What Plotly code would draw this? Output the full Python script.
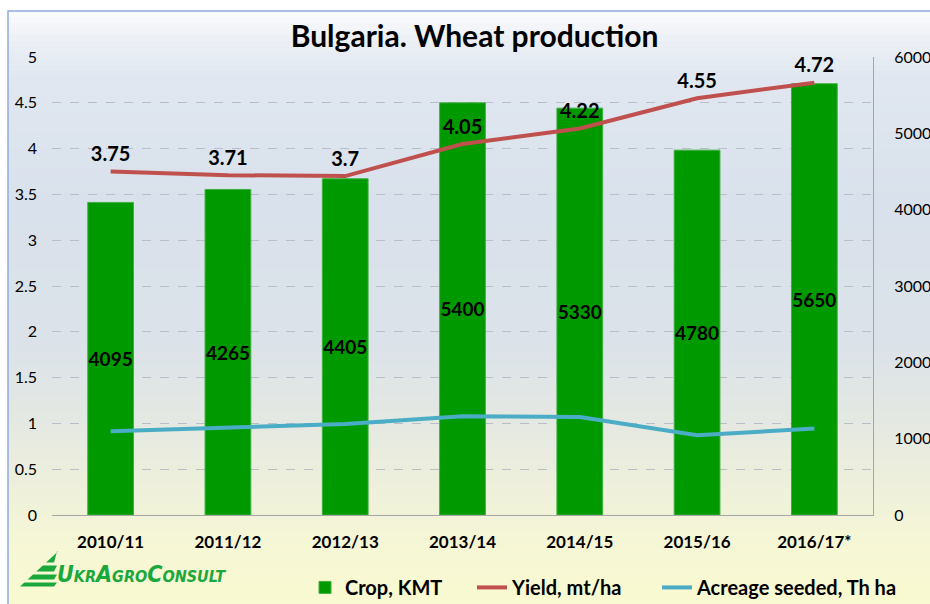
import plotly.graph_objects as go

seasons = ["2010/11", "2011/12", "2012/13", "2013/14", "2014/15", "2015/16", "2016/17*"]
crop_kmt = [4095, 4265, 4405, 5400, 5330, 4780, 5650]
yield_mt_ha = [3.75, 3.71, 3.70, 4.05, 4.22, 4.55, 4.72]
acreage_th_ha = [1097, 1149, 1193, 1293, 1285, 1044, 1132]
yield_labels = ["3.75", "3.71", "3.7", "4.05", "4.22", "4.55", "4.72"]

W, H = 930, 604
L, T = 52, 57
PW, PH = 821, 458.5
R = W - L - PW
B = H - T - PH


def px(xp):
    return (xp - L) / PW


def py(yp):
    return (T + PH - yp) / PH


fig = go.Figure()

fig.add_trace(go.Bar(
    x=seasons, y=crop_kmt, name="Crop, KMT", yaxis="y", legend="legend",
    marker=dict(color="#009900", line=dict(color="#3fb03f", width=1)),
    text=[str(v) for v in crop_kmt], textposition="inside", insidetextanchor="middle",
    constraintext="none", textangle=0,
    textfont=dict(family="Lato", size=19, color="black", weight="bold"),
    hoverinfo="skip",
))
fig.add_trace(go.Scatter(
    x=seasons, y=yield_mt_ha, name="Yield, mt/ha", yaxis="y2", legend="legend2",
    mode="lines+markers+text", line=dict(color="#c0504d", width=4),
    marker=dict(size=7, color="rgba(0,0,0,0)"),
    text=yield_labels, textposition="top center",
    textfont=dict(family="Lato", size=20, color="black", weight="bold"),
))
fig.add_trace(go.Scatter(
    x=seasons, y=acreage_th_ha, name="Acreage seeded, Th ha", yaxis="y", legend="legend3",
    mode="lines", line=dict(color="#4bacc6", width=4),
))

# background gradient (pixel rows -> colour)
stops = [(11, (250, 251, 253)), (40, (236, 240, 246)), (80, (224, 231, 240)),
         (200, (217, 225, 236)), (340, (219, 226, 233)), (420, (228, 232, 226)),
         (480, (237, 239, 220)), (540, (245, 246, 214)), (610, (250, 250, 208))]


def col_at(y):
    for (y0, c0), (y1, c1) in zip(stops[:-1], stops[1:]):
        if y0 <= y <= y1:
            t = (y - y0) / (y1 - y0)
            return "rgb(%d,%d,%d)" % tuple(round(a + (b - a) * t) for a, b in zip(c0, c1))
    return "rgb(250,250,208)"


shapes = []
step = 6
yy = 11
while yy < 606:
    shapes.append(dict(type="rect", xref="paper", yref="paper", layer="below",
                       x0=px(8), x1=px(940), y0=py(yy + step + 1), y1=py(yy),
                       fillcolor=col_at(yy + step / 2), line=dict(width=0)))
    yy += step
# frame
shapes.append(dict(type="rect", xref="paper", yref="paper", layer="above",
                   x0=px(8), x1=px(945), y0=py(620), y1=py(11),
                   line=dict(color="#8faadc", width=1.5), fillcolor="rgba(0,0,0,0)"))
# logo stripes
bands = [(552, 563), (566, 572), (575, 580), (583, 587)]


def hx(y):
    return 58 - (y - 552) / 35 * 38


for t0, t1 in bands:
    path = "M %f %f L %f %f L %f %f L %f %f Z" % (
        px(hx(t0)), py(t0), px(57), py(t0), px(54), py(t1), px(hx(t1)), py(t1))
    shapes.append(dict(type="path", xref="paper", yref="paper", path=path,
                       fillcolor="#1aa83c", line=dict(width=0), layer="above"))

s = "font-size:16px"
logo = ("<b><i>U<span style='%s'>KR</span>A<span style='%s'>GRO</span>"
        "C<span style='%s'>ONSULT</span></i></b>") % (s, s, s)

legend_font = dict(family="Lato", size=20, color="black", weight="bold")
common_leg = dict(orientation="h", xanchor="left", y=py(588), yanchor="middle",
                  font=legend_font, bgcolor="rgba(0,0,0,0)", itemwidth=30)

fig.update_layout(
    width=W, height=H,
    margin=dict(l=L, r=R, t=T, b=B, autoexpand=False),
    paper_bgcolor="white", plot_bgcolor="rgba(0,0,0,0)",
    shapes=shapes,
    title=dict(text="Bulgaria. Wheat production", x=px(471), xanchor="center",
               y=1 - 36 / H, yanchor="middle",
               font=dict(family="Lato", size=30, color="black", weight="bold")),
    bargap=0.61,
    showlegend=True,
    legend=dict(x=px(305), **common_leg),
    legend2=dict(x=px(472), **common_leg),
    legend3=dict(x=px(657), **common_leg),
    xaxis=dict(type="category", showline=True, linecolor="#a6a6a6", linewidth=1,
               showgrid=False, ticks="", ticklabelstandoff=12,
               tickfont=dict(family="Lato", size=17, color="black", weight="bold")),
    yaxis=dict(side="right", range=[0, 6000], dtick=1000, tickformat="d",
               showgrid=False, zeroline=False, showline=True, linecolor="#a6a6a6",
               ticks="outside", ticklen=17, tickcolor="rgba(0,0,0,0)",
               minor=dict(ticks="outside", ticklen=7, tickcolor="#a6a6a6", dtick=1000,
                          showgrid=False),
               tickfont=dict(family="Lato", size=16, color="black")),
    yaxis2=dict(side="left", overlaying="y", range=[0, 5], dtick=0.5,
                showgrid=True, gridcolor="#b9bfc9", griddash="dash", gridwidth=1,
                zeroline=False, showline=False, ticks="", ticklabelstandoff=14,
                tickfont=dict(family="Lato", size=16, color="black")),
    annotations=[dict(text=logo, xref="paper", yref="paper", x=px(55), y=py(575),
                      xanchor="left", yanchor="middle", showarrow=False,
                      font=dict(family="Liberation Sans Narrow, DejaVu Sans Condensed, Arial Narrow, sans-serif",
                                size=23, color="#1aa83c"))],
)

fig.write_html("out.html", config={"displayModeBar": False},
               post_script="document.body.style.margin='0';document.body.style.overflow='hidden';")
